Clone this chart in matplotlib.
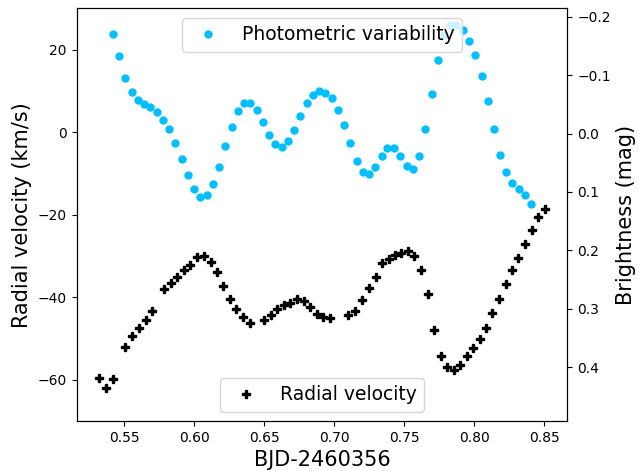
import numpy as np
import matplotlib
matplotlib.use("Agg")
import matplotlib.pyplot as plt

# photometric variability (mag)
t_phot = [0.5417, 0.5462, 0.5507, 0.5553, 0.5598, 0.5643, 0.5686, 0.5731, 0.5776, 0.5819,
          0.5864, 0.5910, 0.5953, 0.5998, 0.6043, 0.6089, 0.6134, 0.6179, 0.6221, 0.6267,
          0.6312, 0.6355, 0.6400, 0.6446, 0.6489, 0.6534, 0.6579, 0.6624, 0.6669, 0.6712,
          0.6757, 0.6803, 0.6848, 0.6893, 0.6936, 0.6981, 0.7026, 0.7071, 0.7114, 0.7160,
          0.7205, 0.7250, 0.7293, 0.7339, 0.7381, 0.7426, 0.7471, 0.7517, 0.7562, 0.7607,
          0.7650, 0.7696, 0.7741, 0.7786, 0.7826, 0.7874, 0.7921, 0.7964, 0.8007, 0.8053,
          0.8098, 0.8141, 0.8186, 0.8231, 0.8274, 0.8319, 0.8364, 0.8410]
mag = [-0.170, -0.132, -0.095, -0.071, -0.057, -0.050, -0.045, -0.037, -0.024, -0.007,
       0.016, 0.043, 0.071, 0.095, 0.109, 0.105, 0.087, 0.057, 0.021, -0.012,
       -0.038, -0.052, -0.052, -0.040, -0.020, 0.002, 0.018, 0.023, 0.013, -0.006,
       -0.030, -0.052, -0.066, -0.072, -0.070, -0.060, -0.041, -0.015, 0.017, 0.047,
       0.066, 0.070, 0.057, 0.039, 0.025, 0.025, 0.039, 0.056, 0.060, 0.039,
       -0.007, -0.068, -0.125, -0.168, -0.186, -0.186, -0.177, -0.158, -0.134, -0.099,
       -0.055, -0.007, 0.036, 0.066, 0.084, 0.095, 0.106, 0.120]

# radial velocity (km/s)
t_rv = [0.5319, 0.5371, 0.5421, 0.5507, 0.5555, 0.5605, 0.5653, 0.5696, 0.5784, 0.5831,
        0.5879, 0.5929, 0.5971, 0.6021, 0.6069, 0.6117, 0.6160, 0.6207, 0.6257, 0.6296,
        0.6346, 0.6398, 0.6500, 0.6546, 0.6594, 0.6641, 0.6686, 0.6734, 0.6781, 0.6829,
        0.6876, 0.6921, 0.6969, 0.7100, 0.7150, 0.7200, 0.7246, 0.7296, 0.7341, 0.7389,
        0.7436, 0.7481, 0.7526, 0.7571, 0.7621, 0.7669, 0.7710, 0.7760, 0.7807, 0.7853,
        0.7899, 0.7948, 0.7993, 0.8041, 0.8086, 0.8131, 0.8179, 0.8226, 0.8271, 0.8317,
        0.8367, 0.8412, 0.8457, 0.8505]
rv = [-59.6, -61.9, -59.8, -52.0, -49.5, -47.4, -45.4, -43.3, -38.1, -36.5,
      -35.2, -33.3, -32.2, -30.2, -30.0, -31.5, -33.9, -37.2, -40.4, -42.9,
      -44.7, -46.2, -45.6, -44.4, -42.8, -41.9, -41.3, -40.3, -40.9, -42.4,
      -44.1, -44.8, -45.1, -44.4, -43.3, -40.7, -37.8, -35.0, -31.8, -30.8,
      -29.8, -29.2, -28.8, -29.9, -33.3, -39.2, -47.9, -54.3, -57.0, -57.6,
      -56.3, -54.2, -52.3, -50.0, -47.5, -43.8, -40.3, -36.7, -33.3, -30.4,
      -27.0, -23.6, -20.5, -18.7]

fig, ax1 = plt.subplots(figsize=(6.39, 4.71), dpi=100)
fig.subplots_adjust(left=0.120, right=0.888, bottom=0.106, top=0.982)

ax1.plot(t_rv, rv, "P", color="black", markersize=6, label="Radial velocity")
ax1.set_ylim(-70, 30)
ax1.set_xlim(0.516, 0.8667)
ax1.set_xlabel("BJD-2460356", fontsize=15)
ax1.set_ylabel("Radial velocity (km/s)", fontsize=15)
ax1.legend(loc="lower center", fontsize=13.5)

ax2 = ax1.twinx()
ax2.plot(t_phot, mag, "o", color="deepskyblue", markersize=5, label="Photometric variability")
ax2.set_ylim(0.492, -0.214)
ax2.set_ylabel("Brightness (mag)", fontsize=15)
ax2.legend(loc="upper center", fontsize=13.5)

plt.savefig("out.png", dpi=100)
